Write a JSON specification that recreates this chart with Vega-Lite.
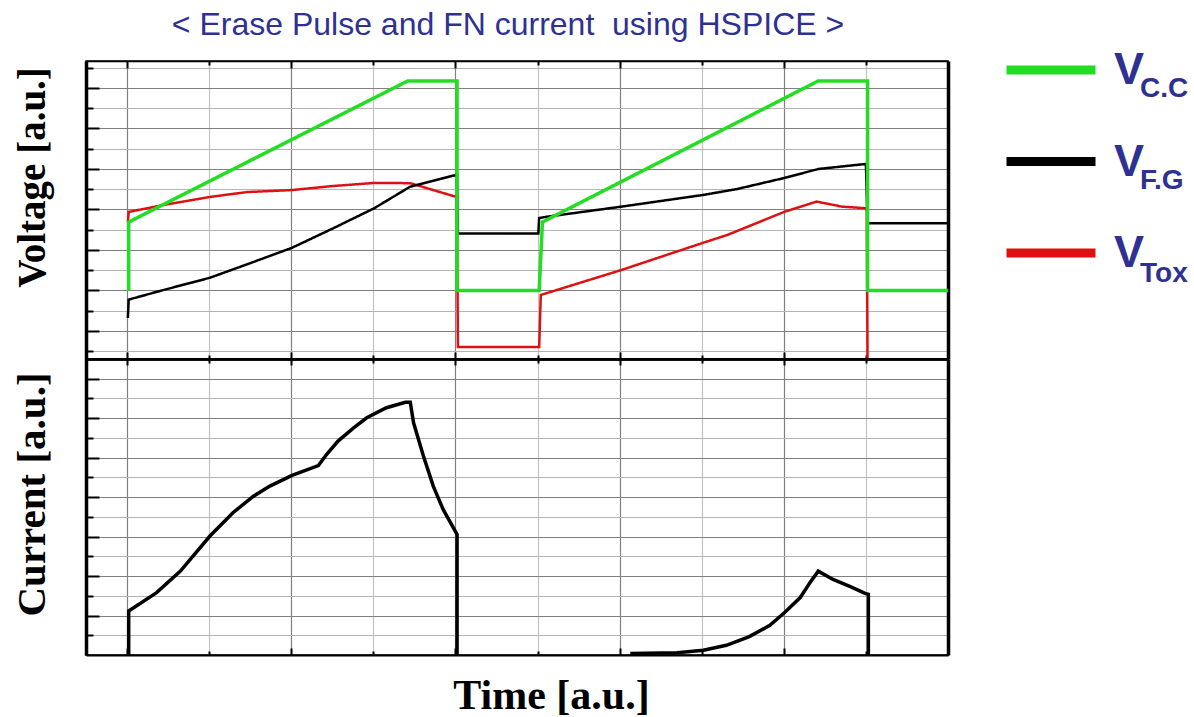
{
  "$schema": "https://vega.github.io/schema/vega-lite/v6.json",
  "autosize": {"type": "pad"},
  "padding": {"left": 10, "top": 8, "right": 0, "bottom": 0},
  "background": "white",
  "config": {"font": "Liberation Sans", "view": {"stroke": "black", "strokeWidth": 1.5}},
  "datasets": {
    "voltage": [
      {"s": "Tox", "i": 0, "t": 0.01, "v": 3.37},
      {"s": "Tox", "i": 1, "t": 0.02, "v": 3.88},
      {"s": "Tox", "i": 2, "t": 0.44, "v": 4.22},
      {"s": "Tox", "i": 3, "t": 1.01, "v": 4.62},
      {"s": "Tox", "i": 4, "t": 1.46, "v": 4.86},
      {"s": "Tox", "i": 5, "t": 2.01, "v": 4.96},
      {"s": "Tox", "i": 6, "t": 2.51, "v": 5.16},
      {"s": "Tox", "i": 7, "t": 3.01, "v": 5.31},
      {"s": "Tox", "i": 8, "t": 3.45, "v": 5.30},
      {"s": "Tox", "i": 9, "t": 3.97, "v": 4.67},
      {"s": "Tox", "i": 10, "t": 4.02, "v": 4.62},
      {"s": "Tox", "i": 11, "t": 4.03, "v": -2.79},
      {"s": "Tox", "i": 12, "t": 5.02, "v": -2.79},
      {"s": "Tox", "i": 13, "t": 5.04, "v": -0.22},
      {"s": "Tox", "i": 14, "t": 5.12, "v": -0.12},
      {"s": "Tox", "i": 15, "t": 6.02, "v": 1.01},
      {"s": "Tox", "i": 16, "t": 7.02, "v": 2.36},
      {"s": "Tox", "i": 17, "t": 7.31, "v": 2.74},
      {"s": "Tox", "i": 18, "t": 8.01, "v": 3.89},
      {"s": "Tox", "i": 19, "t": 8.40, "v": 4.39},
      {"s": "Tox", "i": 20, "t": 8.71, "v": 4.14},
      {"s": "Tox", "i": 21, "t": 9.01, "v": 4.06},
      {"s": "Tox", "i": 22, "t": 9.02, "v": -3.4},
      {"s": "F.G", "i": 0, "t": 0.01, "v": -1.36},
      {"s": "F.G", "i": 1, "t": 0.02, "v": -0.45},
      {"s": "F.G", "i": 2, "t": 0.44, "v": 0.02},
      {"s": "F.G", "i": 3, "t": 1.01, "v": 0.63},
      {"s": "F.G", "i": 4, "t": 1.46, "v": 1.29},
      {"s": "F.G", "i": 5, "t": 2.01, "v": 2.11},
      {"s": "F.G", "i": 6, "t": 2.51, "v": 3.07},
      {"s": "F.G", "i": 7, "t": 3.01, "v": 4.06},
      {"s": "F.G", "i": 8, "t": 3.45, "v": 5.13},
      {"s": "F.G", "i": 9, "t": 3.97, "v": 5.67},
      {"s": "F.G", "i": 10, "t": 4.02, "v": 5.70},
      {"s": "F.G", "i": 11, "t": 4.03, "v": 2.82},
      {"s": "F.G", "i": 12, "t": 5.01, "v": 2.82},
      {"s": "F.G", "i": 13, "t": 5.02, "v": 3.58},
      {"s": "F.G", "i": 14, "t": 5.11, "v": 3.64},
      {"s": "F.G", "i": 15, "t": 6.02, "v": 4.14},
      {"s": "F.G", "i": 16, "t": 7.02, "v": 4.72},
      {"s": "F.G", "i": 17, "t": 7.43, "v": 5.01},
      {"s": "F.G", "i": 18, "t": 8.01, "v": 5.56},
      {"s": "F.G", "i": 19, "t": 8.42, "v": 6.00},
      {"s": "F.G", "i": 20, "t": 9.00, "v": 6.25},
      {"s": "F.G", "i": 21, "t": 9.02, "v": 3.32},
      {"s": "F.G", "i": 22, "t": 10.0, "v": 3.32},
      {"s": "C.C", "i": 0, "t": 0.02, "v": 0},
      {"s": "C.C", "i": 1, "t": 0.02, "v": 3.38},
      {"s": "C.C", "i": 2, "t": 3.42, "v": 10.35},
      {"s": "C.C", "i": 3, "t": 4.02, "v": 10.35},
      {"s": "C.C", "i": 4, "t": 4.02, "v": 0},
      {"s": "C.C", "i": 5, "t": 5.02, "v": 0},
      {"s": "C.C", "i": 6, "t": 5.06, "v": 3.38},
      {"s": "C.C", "i": 7, "t": 8.42, "v": 10.35},
      {"s": "C.C", "i": 8, "t": 9.02, "v": 10.35},
      {"s": "C.C", "i": 9, "t": 9.02, "v": 0},
      {"s": "C.C", "i": 10, "t": 10.0, "v": 0}
    ],
    "current": [
      {"p": 1, "i": 0, "t": 0.02, "c": 0},
      {"p": 1, "i": 1, "t": 0.02, "c": 2.23},
      {"p": 1, "i": 2, "t": 0.36, "c": 3.16},
      {"p": 1, "i": 3, "t": 0.65, "c": 4.25},
      {"p": 1, "i": 4, "t": 1.01, "c": 6.03},
      {"p": 1, "i": 5, "t": 1.29, "c": 7.21},
      {"p": 1, "i": 6, "t": 1.54, "c": 8.05},
      {"p": 1, "i": 7, "t": 1.74, "c": 8.56},
      {"p": 1, "i": 8, "t": 2.01, "c": 9.10},
      {"p": 1, "i": 9, "t": 2.33, "c": 9.60},
      {"p": 1, "i": 10, "t": 2.43, "c": 10.16},
      {"p": 1, "i": 11, "t": 2.57, "c": 10.84},
      {"p": 1, "i": 12, "t": 2.76, "c": 11.51},
      {"p": 1, "i": 13, "t": 2.92, "c": 12.02},
      {"p": 1, "i": 14, "t": 3.16, "c": 12.53},
      {"p": 1, "i": 15, "t": 3.39, "c": 12.81},
      {"p": 1, "i": 16, "t": 3.45, "c": 12.81},
      {"p": 1, "i": 17, "t": 3.49, "c": 11.77},
      {"p": 1, "i": 18, "t": 3.61, "c": 10.08},
      {"p": 1, "i": 19, "t": 3.73, "c": 8.56},
      {"p": 1, "i": 20, "t": 3.85, "c": 7.38},
      {"p": 1, "i": 21, "t": 4.02, "c": 6.11},
      {"p": 1, "i": 22, "t": 4.02, "c": 0},
      {"p": 2, "i": 0, "t": 6.13, "c": 0.08},
      {"p": 2, "i": 1, "t": 6.70, "c": 0.12},
      {"p": 2, "i": 2, "t": 7.02, "c": 0.24},
      {"p": 2, "i": 3, "t": 7.30, "c": 0.49},
      {"p": 2, "i": 4, "t": 7.58, "c": 0.93},
      {"p": 2, "i": 5, "t": 7.83, "c": 1.50},
      {"p": 2, "i": 6, "t": 8.01, "c": 2.15},
      {"p": 2, "i": 7, "t": 8.20, "c": 2.91},
      {"p": 2, "i": 8, "t": 8.32, "c": 3.67},
      {"p": 2, "i": 9, "t": 8.42, "c": 4.25},
      {"p": 2, "i": 10, "t": 8.60, "c": 3.83},
      {"p": 2, "i": 11, "t": 8.81, "c": 3.46},
      {"p": 2, "i": 12, "t": 8.99, "c": 3.12},
      {"p": 2, "i": 13, "t": 9.03, "c": 3.07},
      {"p": 2, "i": 14, "t": 9.03, "c": 0}
    ]
  },
  "spacing": 0,
  "bounds": "flush",
  "vconcat": [
    {
      "width": 862,
      "height": 298,
      "title": {"text": "< Erase Pulse and FN current\u00a0 using HSPICE >", "font": "Liberation Sans", "fontSize": 32, "fontWeight": "normal", "color": "#2e3192", "anchor": "middle", "frame": "group", "offset": 25, "dx": -9, "dy": 32, "baseline": "alphabetic"},
      "data": {"name": "voltage"},
      "transform": [{"calculate": "'x' + datum.s", "as": "sub"}],
      "encoding": {
        "order": {"field": "i", "type": "quantitative"},
        "color": {"field": "s", "type": "nominal", "scale": {"domain": ["C.C", "F.G", "Tox"], "range": ["#22dd22", "#000000", "#dd1111"]},
          "legend": {"orient": "none", "legendX": 916, "legendY": -40, "title": null, "symbolType": "stroke", "symbolSize": 7921, "symbolStrokeWidth": 9, "labelExpr": "'V'", "labelFont": "Liberation Sans", "labelFontSize": 45, "labelFontWeight": "bold", "labelColor": "#2e3192", "labelOffset": 14, "rowPadding": 19.5, "padding": 0}},
        "strokeDash": {"field": "sub", "type": "nominal", "scale": {"domain": ["xC.C", "xF.G", "xTox"], "range": [[1, 0], [1, 0], [1, 0]]},
          "legend": {"orient": "none", "legendX": 916, "legendY": -18, "title": null, "symbolType": "stroke", "symbolSize": 7921, "symbolOpacity": 0, "labelExpr": "slice(datum.label, 1)", "labelFont": "Liberation Sans", "labelFontSize": 28, "labelFontWeight": "bold", "labelColor": "#2e3192", "labelOffset": 47, "rowPadding": 32.5, "padding": 0}}
      },
      "layer": [
        {
          "transform": [{"filter": "datum.s === 'Tox'"}],
          "mark": {"type": "line", "clip": true, "strokeWidth": 2.5},
          "encoding": {
            "x": {"field": "t", "type": "quantitative", "scale": {"domain": [-0.5, 10], "nice": false, "zero": false},
              "axis": {"orient": "bottom", "values": [0, 1, 2, 3, 4, 5, 6, 7, 8, 9], "labels": false, "title": null, "grid": true,
                "gridColor": {"condition": {"test": "datum.value % 2 === 0", "value": "#808080"}, "value": "#c2c2c2"}, "gridWidth": 1.2,
                "tickSize": {"condition": {"test": "datum.value % 2 === 0", "value": -7}, "value": -4}, "tickColor": "black", "tickWidth": 2,
                "domainColor": "black", "domainWidth": 2.5}},
            "y": {"field": "v", "type": "quantitative", "scale": {"domain": [-3.383, 11.333], "nice": false, "zero": false},
              "axis": {"orient": "left", "values": [-3, -2, -1, 0, 1, 2, 3, 4, 5, 6, 7, 8, 9, 10, 11], "labels": false, "title": "Voltage [a.u.]", "grid": true,
                "gridColor": {"condition": {"test": "datum.value % 2 === 0", "value": "#808080"}, "value": "#b4b4b4"}, "gridWidth": 1.2,
                "tickSize": {"condition": {"test": "datum.value % 2 === 0", "value": -13}, "value": -7}, "tickColor": "black", "tickWidth": 2,
                "domainColor": "black", "domainWidth": 3.5,
                "titleFont": "Liberation Serif", "titleFontSize": 39, "titleFontWeight": "bold", "titleColor": "black", "titleAngle": 270, "titleX": -53.5, "titleY": 116, "titleAlign": "center", "titleBaseline": "middle"}}
          }
        },
        {
          "transform": [{"filter": "datum.s === 'F.G'"}],
          "mark": {"type": "line", "clip": true, "strokeWidth": 2.5},
          "encoding": {
            "x": {"field": "t", "type": "quantitative",
              "axis": {"orient": "top", "values": [0, 1, 2, 3, 4, 5, 6, 7, 8, 9], "labels": false, "title": null, "grid": false,
                "tickSize": {"condition": {"test": "datum.value % 2 === 0", "value": -7}, "value": -4}, "tickColor": "black", "tickWidth": 2,
                "domainColor": "black", "domainWidth": 1.5}},
            "y": {"field": "v", "type": "quantitative",
              "axis": {"orient": "right", "values": [], "labels": false, "ticks": false, "grid": false, "title": null, "domainColor": "black", "domainWidth": 3.5}}
          }
        },
        {
          "transform": [{"filter": "datum.s === 'C.C'"}],
          "mark": {"type": "line", "clip": true, "strokeWidth": 3.5},
          "encoding": {
            "x": {"field": "t", "type": "quantitative", "axis": null},
            "y": {"field": "v", "type": "quantitative", "axis": null}
          }
        }
      ],
      "resolve": {"axis": {"x": "independent", "y": "independent"}}
    },
    {
      "width": 862,
      "height": 296,
      "data": {"name": "current"},
      "encoding": {
        "order": {"field": "i", "type": "quantitative"},
        "detail": {"field": "p", "type": "nominal"}
      },
      "layer": [
        {
          "mark": {"type": "line", "clip": true, "strokeWidth": 3.5, "color": "black"},
          "encoding": {
            "x": {"field": "t", "type": "quantitative", "scale": {"domain": [-0.5, 10], "nice": false, "zero": false},
              "axis": {"orient": "bottom", "values": [0, 1, 2, 3, 4, 5, 6, 7, 8, 9], "labels": false, "title": "Time [a.u.]", "grid": true,
                "gridColor": {"condition": {"test": "datum.value % 2 === 0", "value": "#808080"}, "value": "#c2c2c2"}, "gridWidth": 1.2,
                "tickSize": {"condition": {"test": "datum.value % 2 === 0", "value": -7}, "value": -4}, "tickColor": "black", "tickWidth": 2,
                "domainColor": "black", "domainWidth": 2,
                "titleFont": "Liberation Serif", "titleFontSize": 42, "titleFontWeight": "bold", "titleColor": "black", "titleX": 465, "titleY": 40, "titleAlign": "center", "titleBaseline": "middle"}},
            "y": {"field": "c", "type": "quantitative", "scale": {"domain": [0, 15], "nice": false, "zero": false},
              "axis": {"orient": "left", "values": [1, 2, 3, 4, 5, 6, 7, 8, 9, 10, 11, 12, 13, 14], "labels": false, "title": "Current [a.u.]", "grid": true,
                "gridColor": {"condition": {"test": "datum.value % 2 === 0", "value": "#808080"}, "value": "#b4b4b4"}, "gridWidth": 1.2,
                "tickSize": {"condition": {"test": "datum.value % 2 === 0", "value": -13}, "value": -7}, "tickColor": "black", "tickWidth": 2,
                "domainColor": "black", "domainWidth": 3.5,
                "titleFont": "Liberation Serif", "titleFontSize": 41, "titleFontWeight": "bold", "titleColor": "black", "titleAngle": 270, "titleX": -53.5, "titleY": 135, "titleAlign": "center", "titleBaseline": "middle"}}
          }
        },
        {
          "mark": {"type": "line", "clip": true, "strokeWidth": 3.5, "color": "black", "strokeOpacity": 0},
          "encoding": {
            "x": {"field": "t", "type": "quantitative",
              "axis": {"orient": "top", "values": [0, 1, 2, 3, 4, 5, 6, 7, 8, 9], "labels": false, "title": null, "grid": false,
                "tickSize": {"condition": {"test": "datum.value % 2 === 0", "value": -6}, "value": -4}, "tickColor": "black", "tickWidth": 2,
                "domainColor": "black", "domainWidth": 2.5}},
            "y": {"field": "c", "type": "quantitative",
              "axis": {"orient": "right", "values": [], "labels": false, "ticks": false, "grid": false, "title": null, "domainColor": "black", "domainWidth": 3.5}}
          }
        }
      ],
      "resolve": {"axis": {"x": "independent", "y": "independent"}}
    }
  ]
}
